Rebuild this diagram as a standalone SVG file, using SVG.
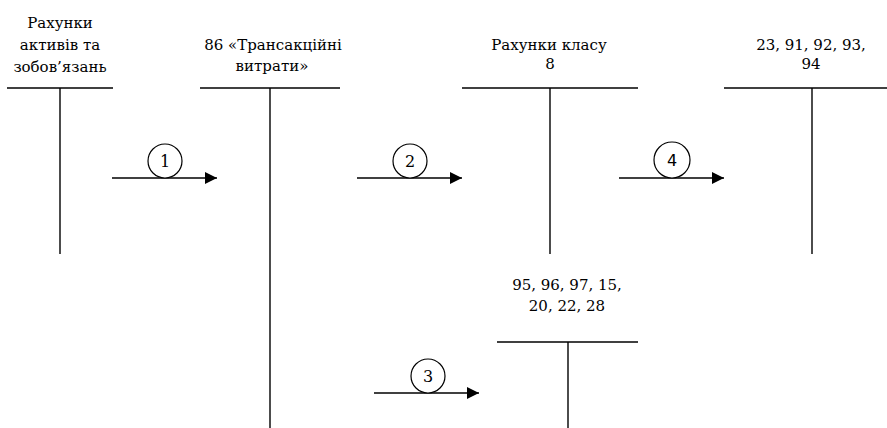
<svg xmlns="http://www.w3.org/2000/svg" width="887" height="428" viewBox="0 0 887 428">
<defs>
<marker id="ah" viewBox="0 0 12 12" refX="12" refY="6" markerWidth="12" markerHeight="12" markerUnits="userSpaceOnUse" orient="auto">
<path d="M0,0 L12,6 L0,12 Z" fill="#000"/>
</marker>
</defs>
<style>
text{fill:#000;text-anchor:middle}
.ln{stroke:#000;stroke-width:1.4;fill:none}
.c{stroke:#000;stroke-width:1.2;fill:#fff}
.n{font-size:16px}
</style>
<rect width="887" height="428" fill="#fff"/>
<g font-family="DejaVu Serif, Liberation Serif, serif" font-size="15">
<g id="acc1">
<text x="60" y="28">Рахунки</text>
<text x="60" y="50">активів та</text>
<text x="60" y="72">зобов’язань</text>
<line class="ln" x1="7" y1="88" x2="113" y2="88"/>
<line class="ln" x1="60" y1="88" x2="60" y2="254"/>
</g>
<g id="acc86">
<text x="273" y="50">86 «Трансакційні</text>
<text x="272" y="71">витрати»</text>
<line class="ln" x1="200" y1="88" x2="340" y2="88"/>
<line class="ln" x1="270" y1="88" x2="270" y2="428"/>
</g>
<g id="acc8">
<text x="549" y="50">Рахунки класу</text>
<text x="550" y="69">8</text>
<line class="ln" x1="462" y1="88" x2="638" y2="88"/>
<line class="ln" x1="550" y1="88" x2="550" y2="254"/>
</g>
<g id="acc23">
<text x="811" y="50">23, 91, 92, 93,</text>
<text x="811" y="69">94</text>
<line class="ln" x1="724" y1="88" x2="887" y2="88"/>
<line class="ln" x1="812" y1="88" x2="812" y2="254"/>
</g>
<g id="acc95">
<text x="567" y="290">95, 96, 97, 15,</text>
<text x="567" y="311">20, 22, 28</text>
<line class="ln" x1="497" y1="342" x2="638" y2="342"/>
<line class="ln" x1="568" y1="342" x2="568" y2="428"/>
</g>
<g id="connectors">
<g id="arrow1">
<line class="ln" x1="112" y1="178" x2="217" y2="178" marker-end="url(#ah)"/>
<circle class="c" cx="165" cy="161" r="17"/>
<text class="n" x="165" y="167">1</text>
</g>
<g id="arrow2">
<line class="ln" x1="357" y1="178" x2="462" y2="178" marker-end="url(#ah)"/>
<circle class="c" cx="410" cy="161" r="17"/>
<text class="n" x="410" y="167">2</text>
</g>
<g id="arrow3">
<line class="ln" x1="374" y1="393" x2="479" y2="393" marker-end="url(#ah)"/>
<circle class="c" cx="428" cy="376" r="17"/>
<text class="n" x="428" y="382">3</text>
</g>
<g id="arrow4">
<line class="ln" x1="619" y1="178" x2="724" y2="178" marker-end="url(#ah)"/>
<circle class="c" cx="672" cy="160" r="18"/>
<text x="672" y="166" font-family="DejaVu Sans, sans-serif" font-size="16">4</text>
</g>
</g>
</g>
</svg>
